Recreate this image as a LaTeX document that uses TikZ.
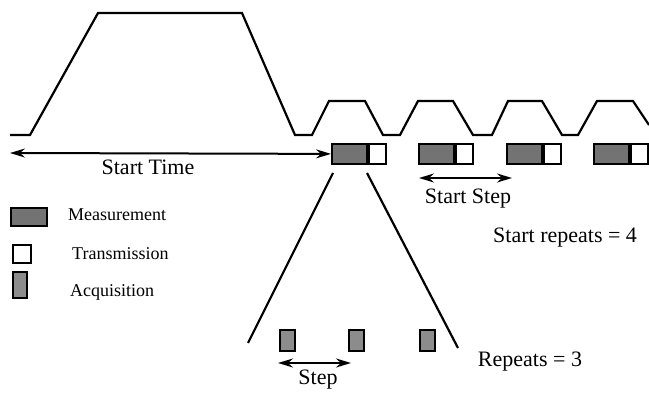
\documentclass[tikz,border=0pt]{standalone}
\usepackage{fontspec}
\setmainfont{Liberation Serif}
\usetikzlibrary{arrows.meta}
\tikzset{
    wave/.style={line width=2.2pt, line join=miter},
    meas/.style={draw, line width=1.8pt, fill=black!55, inner sep=0pt, minimum width=35pt, minimum height=20pt, anchor=north west},
    trans/.style={draw, line width=1.8pt, fill=white, inner sep=0pt, minimum width=17pt, minimum height=20pt, anchor=west},
    acq/.style={draw, line width=1.8pt, fill=black!45, inner sep=0pt, minimum width=15pt, minimum height=21pt, anchor=north west},
    arrow/.style={{Stealth[length=15pt,width=9pt,inset=5pt]}-{Stealth[length=15pt,width=9pt,inset=5pt]}, line width=2pt},
    fan/.style={line width=2.2pt},
    txt/.style={font=\fontsize{22}{24}\selectfont, inner sep=0pt},
    legtxt/.style={font=\fontsize{18}{20}\selectfont, inner sep=0pt, anchor=west}
}

\begin{document}
\begin{tikzpicture}[x=1pt, y=-1pt]
\useasboundingbox (0,0) rectangle (649,393);

% ramp up, start time, then the repeated small steps
\draw[wave] (10,135) -- (30,135) -- (98,13) -- (242,13) -- (295,135) -- (312,135)
    -- (329,101) -- (365,101) -- (383,135) -- (400,135)
    -- (418,101) -- (453,101) -- (473,135) -- (492,135)
    -- (508,101) -- (542,101) -- (562,135) -- (578,135)
    -- (597,101) -- (633,101) -- (649,125);

% measurement + transmission blocks
\node[meas] (m1) at (331,143) {};
\node[trans] (t1) at (m1.east) {};
\node[meas] (m2) at (418,143) {};
\node[trans] (t2) at (m2.east) {};
\node[meas] (m3) at (506,143) {};
\node[trans] (t3) at (m3.east) {};
\node[meas] (m4) at (593,143) {};
\node[trans] (t4) at (m4.east) {};

% start time
\coordinate (st) at (10,153);
\draw[arrow] (st) -- (m1.west);
\node[txt] (sttxt) at (148,167) {Start Time};

% start step
\coordinate (ss1) at (419,178);
\coordinate (ss2) at (512,178);
\draw[arrow] (ss1) -- (ss2);
\node[txt] (sstxt) at (468,199) {Start Step};
\node[txt, anchor=west] (srtxt) at (493,238) {Start repeats = 4};

% zoom into one measurement
\coordinate (fl1) at (333,173);
\coordinate (fl2) at (248,343);
\coordinate (fr1) at (367,173);
\coordinate (fr2) at (458,348);
\draw[fan] (fl1) -- (fl2);
\draw[fan] (fr1) -- (fr2);

% acquisitions
\node[acq] (a1) at (279,329) {};
\node[acq] (a2) at (348,329) {};
\node[acq] (a3) at (419,329) {};

\coordinate (sp1) at (278,363);
\coordinate (sp2) at (351,363);
\draw[arrow] (sp1) -- (sp2);
\node[txt] (sptxt) at (318,380) {Step};
\node[txt] (rptxt) at (530,362) {Repeats = 3};

% legend
\node[meas, minimum width=36pt, minimum height=18pt] (lm) at (10,207) {};
\node[legtxt] (lmtxt) at (68,215) {Measurement};
\node[trans, anchor=north west, minimum width=18pt, minimum height=18pt] (lt) at (12,244) {};
\node[legtxt] (lttxt) at (72,254) {Transmission};
\node[acq, minimum width=14pt, minimum height=26pt] (la) at (12,271) {};
\node[legtxt] (latxt) at (70,292) {Acquisition};
\end{tikzpicture}
\end{document}
